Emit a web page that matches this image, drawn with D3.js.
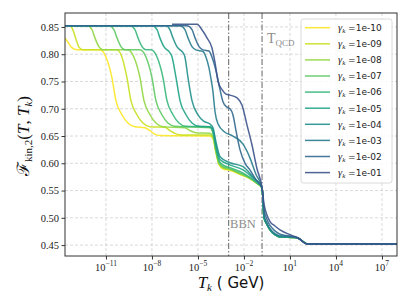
<!DOCTYPE html>
<html><head><meta charset="utf-8">
<script src="https://cdn.jsdelivr.net/npm/d3@7"></script>
<style>
html,body{margin:0;padding:0;background:#fff;}
svg{display:block;}
</style></head>
<body>
<svg id="c" width="411" height="308"></svg>
<script>
// ---- data (x values are log10 of T_k in GeV) ----
const gammaLabels = ["1e-10","1e-09","1e-08","1e-07","1e-06","1e-05","1e-04","1e-03","1e-02","1e-01"];
const yTicks = [0.45,0.50,0.55,0.60,0.65,0.70,0.75,0.80,0.85];
const xTickExps = [-11,-8,-5,-2,1,4,7];
const xDomainExp = [-13.67, 7.98];
const yDomain = [0.43, 0.8756];
const bbnExp = -3.0;
const qcdExp = -0.82;

const tailLow = [[-0.69,0.50],[-0.50,0.488],[-0.30,0.478],[0.02,0.469],[0.35,0.465],[1.33,0.464],[1.66,0.461],[1.92,0.455],[2.18,0.452],[7.98,0.452]];

const s1e10 = [[-13.67,0.830],[-13.48,0.822],[-13.22,0.812],[-12.89,0.808],[-11.39,0.808],[-11.0,0.795],[-10.61,0.757],[-10.35,0.715],[-9.96,0.689],[-9.57,0.674],[-9.11,0.667],[-8.46,0.665],[-8.13,0.660],[-7.80,0.653],[-7.48,0.651],[-4.22,0.650],[-4.02,0.645],[-3.83,0.620],[-3.63,0.598],[-3.37,0.590],[-2.91,0.587],[-2.26,0.580],[-1.61,0.572],[-1.15,0.563],[-0.82,0.555]].concat(tailLow);
const s1e09 = [[-13.67,0.852],[-13.35,0.852],[-13.16,0.845],[-12.96,0.828],[-12.76,0.813],[-12.5,0.808],[-10.28,0.808],[-9.96,0.795],[-9.63,0.757],[-9.37,0.715],[-8.98,0.689],[-8.59,0.674],[-8.13,0.667],[-7.15,0.666],[-6.83,0.660],[-6.43,0.654],[-6.04,0.652],[-4.22,0.652],[-4.02,0.647],[-3.83,0.621],[-3.63,0.599],[-3.37,0.591],[-2.91,0.588],[-2.26,0.580],[-1.61,0.572],[-1.15,0.563],[-0.82,0.555]].concat(tailLow);
const s1e08 = [[-13.67,0.852],[-12.24,0.852],[-11.91,0.845],[-11.72,0.83],[-11.46,0.814],[-11.20,0.808],[-9.57,0.808],[-9.18,0.795],[-8.78,0.757],[-8.52,0.715],[-8.13,0.689],[-7.74,0.674],[-7.28,0.667],[-5.85,0.665],[-5.52,0.660],[-5.13,0.656],[-4.22,0.655],[-4.02,0.649],[-3.83,0.622],[-3.63,0.600],[-3.37,0.592],[-2.91,0.589],[-2.26,0.581],[-1.61,0.573],[-1.15,0.563],[-0.82,0.555]].concat(tailLow);
const s1e07 = [[-13.67,0.852],[-10.8,0.852],[-10.48,0.845],[-10.28,0.83],[-10.02,0.814],[-9.76,0.808],[-8.78,0.808],[-8.39,0.795],[-8.0,0.757],[-7.74,0.715],[-7.35,0.689],[-6.96,0.674],[-6.50,0.668],[-4.22,0.665],[-4.02,0.655],[-3.83,0.625],[-3.63,0.602],[-3.37,0.594],[-2.91,0.590],[-2.26,0.582],[-1.61,0.573],[-1.15,0.564],[-0.82,0.555]].concat(tailLow);
const s1e06 = [[-13.67,0.852],[-9.43,0.852],[-9.11,0.845],[-8.91,0.83],[-8.65,0.814],[-8.39,0.808],[-8.06,0.808],[-7.67,0.795],[-7.28,0.757],[-7.02,0.715],[-6.63,0.689],[-6.24,0.674],[-5.78,0.668],[-4.22,0.667],[-4.02,0.658],[-3.83,0.628],[-3.63,0.605],[-3.37,0.597],[-2.91,0.592],[-2.26,0.585],[-1.61,0.574],[-1.15,0.564],[-0.82,0.555]].concat(tailLow);
const s1e05 = [[-13.67,0.852],[-8.0,0.852],[-7.67,0.845],[-7.48,0.83],[-7.22,0.814],[-7.02,0.808],[-6.89,0.805],[-6.69,0.795],[-6.43,0.757],[-6.17,0.715],[-5.78,0.689],[-5.39,0.674],[-4.93,0.668],[-4.22,0.667],[-4.02,0.661],[-3.83,0.632],[-3.56,0.607],[-2.91,0.597],[-2.06,0.588],[-1.41,0.573],[-0.82,0.555]].concat(tailLow);
const s1e04 = [[-13.67,0.852],[-7.09,0.852],[-6.83,0.845],[-6.63,0.83],[-6.37,0.814],[-6.17,0.808],[-6.04,0.805],[-5.85,0.795],[-5.65,0.757],[-5.39,0.715],[-5.0,0.689],[-4.61,0.677],[-4.22,0.672],[-4.02,0.665],[-3.83,0.640],[-3.56,0.612],[-2.91,0.601],[-2.06,0.594],[-1.41,0.575],[-0.82,0.555]].concat(tailLow);
const s1e03 = [[-13.67,0.852],[-6.17,0.852],[-5.85,0.845],[-5.65,0.83],[-5.39,0.814],[-5.13,0.808],[-4.67,0.805],[-4.48,0.795],[-4.28,0.775],[-4.15,0.755],[-4.02,0.731],[-3.89,0.695],[-3.69,0.672],[-3.24,0.657],[-2.72,0.650],[-2.06,0.635],[-1.61,0.61],[-1.22,0.58],[-0.82,0.555],[-0.69,0.505],[-0.50,0.49],[-0.30,0.48],[0.02,0.471],[0.35,0.467],[1.33,0.465],[1.66,0.461],[1.92,0.455],[2.18,0.452],[7.98,0.452]];
const s1e02 = [[-13.67,0.852],[-5.72,0.852],[-5.39,0.845],[-5.19,0.83],[-4.93,0.814],[-4.67,0.808],[-4.28,0.806],[-4.09,0.795],[-3.89,0.777],[-3.76,0.762],[-3.56,0.735],[-3.37,0.713],[-3.11,0.703],[-2.91,0.700],[-2.72,0.689],[-2.52,0.66],[-2.26,0.625],[-1.93,0.60],[-1.61,0.588],[-1.22,0.57],[-0.82,0.555],[-0.69,0.515],[-0.50,0.497],[-0.30,0.486],[0.02,0.476],[0.35,0.470],[1.0,0.466],[1.53,0.463],[1.85,0.456],[2.11,0.452],[7.98,0.452]];
const s1e01 = [[-6.69,0.855],[-5.06,0.855],[-4.74,0.845],[-4.41,0.83],[-4.09,0.812],[-3.89,0.785],[-3.69,0.75],[-3.43,0.735],[-3.17,0.727],[-2.91,0.725],[-2.45,0.72],[-2.13,0.707],[-1.80,0.67],[-1.48,0.634],[-1.15,0.59],[-0.82,0.555],[-0.69,0.525],[-0.50,0.505],[-0.30,0.493],[0.02,0.485],[0.35,0.478],[1.0,0.469],[1.53,0.463],[1.85,0.456],[2.11,0.452],[7.98,0.452]];

const seriesData = [s1e10,s1e09,s1e08,s1e07,s1e06,s1e05,s1e04,s1e03,s1e02,s1e01];

// ---- layout ----
const svg = d3.select("#c");
const L = 65, R = 397, T = 13, B = 256;
const x = d3.scaleLog().domain(xDomainExp.map(e => Math.pow(10, e))).range([L, R]);
const y = d3.scaleLinear().domain(yDomain).range([B, T]);
const color = i => d3.interpolateViridis(1 - i * (0.75 / 9));
const serif = "'Liberation Serif','DejaVu Serif',serif";
const sans = "'DejaVu Sans',sans-serif";

svg.append("defs").append("clipPath").attr("id","clip")
  .append("rect").attr("x",L).attr("y",T).attr("width",R-L).attr("height",B-T);

// grid
const grid = svg.append("g").attr("stroke","#cfcfcf").attr("stroke-width",0.8).attr("stroke-dasharray","3,2");
grid.selectAll("line.gy").data(yTicks).join("line")
  .attr("x1",L).attr("x2",R).attr("y1",d=>y(d)).attr("y2",d=>y(d));
grid.selectAll("line.gx").data(xTickExps).join("line")
  .attr("y1",T).attr("y2",B).attr("x1",d=>x(Math.pow(10,d))).attr("x2",d=>x(Math.pow(10,d)));

// reference vertical lines
const vl = svg.append("g").attr("stroke","#7f7f7f").attr("stroke-width",1.2).attr("stroke-dasharray","6,2,1.5,2");
[bbnExp, qcdExp].forEach(e => {
  vl.append("line").attr("x1",x(Math.pow(10,e))).attr("x2",x(Math.pow(10,e))).attr("y1",T).attr("y2",B);
});

// curves
const line = d3.line().x(d => x(Math.pow(10, d[0]))).y(d => y(d[1])).curve(d3.curveMonotoneX);
const curves = svg.append("g").attr("clip-path","url(#clip)");
seriesData.forEach((s, i) => {
  curves.append("path").attr("d", line(s)).attr("fill","none")
    .attr("stroke", color(i)).attr("stroke-width",1.5).attr("stroke-opacity",0.9);
});

// annotations
svg.append("text").attr("x", x(Math.pow(10,bbnExp)) + 1.5).attr("y", 228)
  .attr("font-family", serif).attr("font-size", 12.5).attr("fill","#8c8c8c").text("BBN");
const tq = svg.append("text").attr("x", x(Math.pow(10,qcdExp)) + 5).attr("y", 43)
  .attr("font-family", serif).attr("font-size", 14).attr("fill","#8c8c8c");
tq.append("tspan").text("T");
tq.append("tspan").attr("font-size",9).attr("dy",3).text("QCD");

// spines
svg.append("rect").attr("x",L).attr("y",T).attr("width",R-L).attr("height",B-T)
  .attr("fill","none").attr("stroke","#333").attr("stroke-width",1);

// y axis
const yAxis = d3.axisLeft(y).tickValues(yTicks).tickSize(3.5).tickFormat(d3.format(".2f"));
const gy = svg.append("g").attr("transform",`translate(${L},0)`).call(yAxis);
gy.select(".domain").remove();
gy.selectAll(".tick line").attr("stroke","#333");
gy.selectAll(".tick text").attr("font-family", serif).attr("font-size", 10.5).attr("fill","#222").attr("x",-6);

// x axis
const xAxis = d3.axisBottom(x).tickValues(xTickExps.map(e => Math.pow(10,e))).tickSize(3.5).tickFormat("");
const gx = svg.append("g").attr("transform",`translate(0,${B})`).call(xAxis);
gx.select(".domain").remove();
gx.selectAll(".tick line").attr("stroke","#333");
const xl = svg.append("g");
xTickExps.forEach(e => {
  const t = xl.append("text").attr("x", x(Math.pow(10,e))).attr("y", 271)
    .attr("text-anchor","middle").attr("font-family", serif).attr("font-size", 10.5).attr("fill","#222");
  t.append("tspan").text("10");
  t.append("tspan").attr("font-size",7.5).attr("dy",-5).text((e < 0 ? "\u2212" : "") + Math.abs(e));
});

// x label
const xlab = svg.append("text").attr("x", (L+R)/2).attr("y", 288).attr("text-anchor","middle").attr("fill","#111");
xlab.append("tspan").attr("font-family", serif).attr("font-style","italic").attr("font-size",17).text("T");
xlab.append("tspan").attr("font-family", serif).attr("font-style","italic").attr("font-size",11).attr("dy",3).text("k");
xlab.append("tspan").attr("font-family", sans).attr("font-size",15).attr("dy",-3).text(" ( GeV)");

// y label
const ylab = svg.append("text").attr("transform","translate(29,136) rotate(-90)").attr("text-anchor","middle").attr("fill","#111");
ylab.append("tspan").attr("font-family", "'DejaVu Serif',serif").attr("font-size",17).text("\u2131");
ylab.append("tspan").attr("font-family", serif).attr("font-size",11).attr("dy",3).text("kin,2");
ylab.append("tspan").attr("font-family", serif).attr("font-size",17).attr("dy",-3).text("(");
ylab.append("tspan").attr("font-family", serif).attr("font-style","italic").attr("font-size",17).text("T");
ylab.append("tspan").attr("font-family", serif).attr("font-size",17).text(", ");
ylab.append("tspan").attr("font-family", serif).attr("font-style","italic").attr("font-size",17).text("T");
ylab.append("tspan").attr("font-family", serif).attr("font-style","italic").attr("font-size",11).attr("dy",3).text("k");
ylab.append("tspan").attr("font-family", serif).attr("font-size",17).attr("dy",-3).text(")");

// legend
const lg = svg.append("g");
lg.append("rect").attr("x",301).attr("y",19).attr("width",91).attr("height",164).attr("rx",2.5)
  .attr("fill","#fff").attr("fill-opacity",0.85).attr("stroke","#d0d0d0").attr("stroke-width",0.8);
const items = lg.selectAll("g.it").data(gammaLabels).join("g")
  .attr("transform",(d,i)=>`translate(0,${27.7 + i*16.1})`);
items.append("line").attr("x1",305).attr("x2",330).attr("y1",0).attr("y2",0)
  .attr("stroke",(d,i)=>color(i)).attr("stroke-width",1.5).attr("stroke-opacity",0.9);
const it = items.append("text").attr("x",338).attr("y",3.3).attr("fill","#222");
it.append("tspan").attr("font-family", serif).attr("font-style","italic").attr("font-size",10.5).text("\u03b3");
it.append("tspan").attr("font-family", serif).attr("font-style","italic").attr("font-size",7).attr("dy",2).text("k");
it.append("tspan").attr("font-family", sans).attr("font-size",9).attr("dy",-2).text(d => " =" + d);
</script>
</body></html>
